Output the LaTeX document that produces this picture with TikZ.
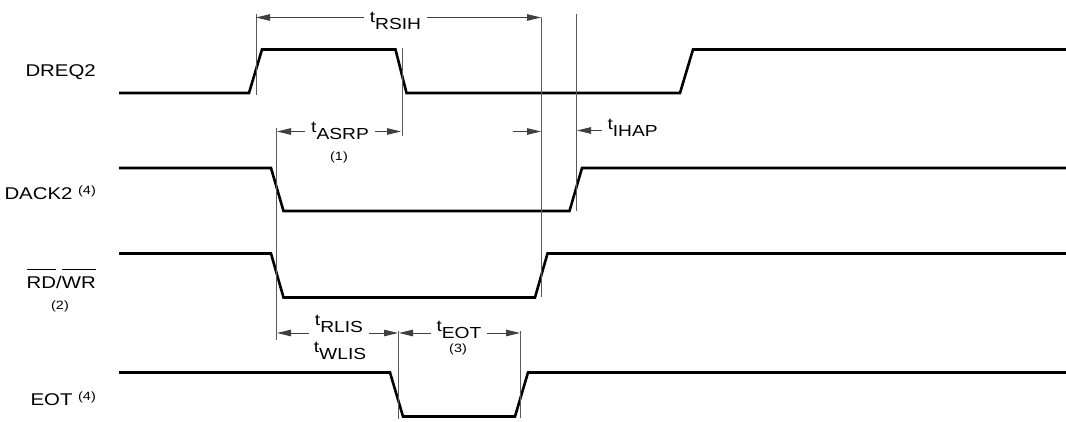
\documentclass[tikz,border=0pt]{standalone}
\usepackage{graphicx}
\usepackage{fontspec}
\setmainfont{Liberation Sans}
\usetikzlibrary{arrows.meta}
\newcommand\sx[1]{\scalebox{1.2}[1]{#1}}
\newcommand\tlab[1]{\sx{t\raisebox{-7pt}{#1}}}
\newcommand\ovl[1]{\setbox0\hbox{#1}\rlap{\rule[18pt]{\wd0}{0.9pt}}\box0}
\newcommand\supn[1]{\raisebox{5pt}{\fontsize{12}{13}\selectfont (#1)}}
\begin{document}
\begin{tikzpicture}[x=1pt,y=-1pt,
  wave/.style={line width=2.6pt, line join=miter},
  guide/.style={line width=0.9pt, black!65},
  dim/.style={line width=0.9pt, black!75, -{Triangle[length=14pt,width=6.5pt]}},
  siglbl/.style={anchor=base east, inner sep=0pt, font=\fontsize{17}{20}\selectfont},
  tl/.style={anchor=base, inner sep=0pt, outer xsep=6pt, font=\fontsize{16}{19}\selectfont},
  note/.style={inner sep=0pt, font=\fontsize{12}{14}\selectfont}]
\useasboundingbox (0,0) rectangle (1066,422);

% signal names
\node[siglbl] (ldreq) at (96,76.7) {\sx{DREQ2}};
\node[siglbl] (ldack) at (96,199.3) {\sx{DACK2 \supn{4}}};
\node[siglbl] (lrdwr) at (96,288) {\sx{\ovl{RD}/\ovl{WR}}};
\node[note] (lrdwr2) at (60,306.5) {\sx{(2)}};
\node[siglbl] (leot) at (96,405.5) {\sx{EOT \supn{4}}};

% waveforms
\draw[wave] (119,93) -- (249,93) -- (262,49.5) -- (395.5,49.5) -- (406.5,93)
  -- (680,93) -- (693,49.5) -- (1066,49.5);
\draw[wave] (119,168) -- (271,168) -- (283.5,211) -- (569.5,211) -- (582,168) -- (1066,168);
\draw[wave] (119,253.5) -- (271,253.5) -- (283.5,297.5) -- (535,297.5) -- (547.5,253.5) -- (1066,253.5);
\draw[wave] (119,372.5) -- (390,372.5) -- (403,416.5) -- (515,416.5) -- (528,372.5) -- (1066,372.5);

% guide lines
\coordinate (v1t) at (256,14);    \coordinate (v1b) at (256,95);
\coordinate (v2t) at (402,48);    \coordinate (v2b) at (402,136);
\coordinate (v3t) at (541,17);    \coordinate (v3b) at (541,297);
\coordinate (v4t) at (576,14);    \coordinate (v4b) at (576,211);
\coordinate (v5t) at (276.5,128); \coordinate (v5b) at (276.5,340);
\coordinate (v6t) at (398.5,331); \coordinate (v6b) at (398.5,419);
\coordinate (v7t) at (520.5,331); \coordinate (v7b) at (520.5,418);
\foreach \i in {1,...,7} \draw[guide] (v\i t) -- (v\i b);

% tRSIH
\node[tl] (rsih) at (395.5,23) {\tlab{RSIH}};
\coordinate (rsihA) at (256,17.5); \coordinate (rsihB) at (541,17.5);
\draw[dim] (rsih.west |- rsihA) -- (rsihA);
\draw[dim] (rsih.east |- rsihB) -- (rsihB);

% tASRP
\node[tl] (asrp) at (340,133) {\tlab{ASRP}};
\node[note] (n1) at (339,157) {\sx{(1)}};
\coordinate (asrpA) at (277,131.5); \coordinate (asrpB) at (401,131.5);
\draw[dim] (asrp.west |- asrpA) -- (asrpA);
\draw[dim] (asrp.east |- asrpB) -- (asrpB);

% arrow into v3
\coordinate (ihL0) at (513,131.5); \coordinate (ihL1) at (541,131.5);
\draw[dim] (ihL0) -- (ihL1);

% tIHAP
\node[tl, anchor=base west] (ihap) at (601.5,130) {\tlab{IHAP}};
\coordinate (ihapA) at (577,130.5);
\draw[dim] (ihap.west |- ihapA) -- (ihapA);

% tRLIS / tWLIS
\node[tl] (rlis) at (339,325) {\tlab{RLIS}};
\node[tl] (wlis) at (340,352) {\tlab{WLIS}};
\coordinate (rlisA) at (277,333); \coordinate (rlisB) at (398,333);
\draw[dim] (rlis.west |- rlisA) -- (rlisA);
\draw[dim] (rlis.east |- rlisB) -- (rlisB);

% tEOT
\node[tl] (teot) at (459,331) {\tlab{EOT}};
\node[note] (n3) at (458,349) {\sx{(3)}};
\coordinate (eotA) at (399,333); \coordinate (eotB) at (520,333);
\draw[dim] (teot.west |- eotA) -- (eotA);
\draw[dim] (teot.east |- eotB) -- (eotB);
\end{tikzpicture}
\end{document}
